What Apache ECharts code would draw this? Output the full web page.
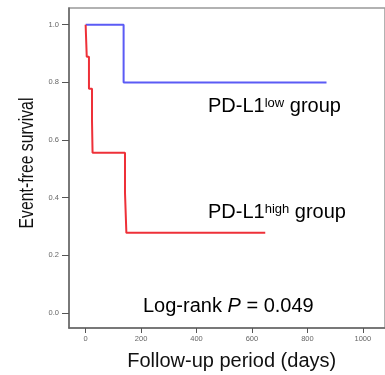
<!DOCTYPE html>
<html><head><meta charset="utf-8">
<script src="https://cdn.jsdelivr.net/npm/echarts@6/dist/echarts.min.js"></script>
<style>html,body{margin:0;padding:0;background:#fff}#c{width:385px;height:375px}</style>
</head><body><div id="c"></div>
<script>
// Kaplan-Meier step points: [days, survival]
const lowTimes = [0, 137, 869];
const lowSurv = [1.0, 0.8, 0.8];
const highTimes = [0, 4, 12, 23, 25, 142, 147, 648];
const highSurv = [1.0, 0.889, 0.778, 0.667, 0.556, 0.417, 0.278, 0.278];
const xTicks = [0, 200, 400, 600, 800, 1000];
const yTicks = [0.0, 0.2, 0.4, 0.6, 0.8, 1.0];

const FONT = 'Liberation Sans, Arial, sans-serif';
const chart = echarts.init(document.getElementById('c'));
const toPairs = (t, s) => t.map((v, i) => [v, s[i]]);
const supRich = {
  a: { fontSize: 20, lineHeight: 24, fontFamily: FONT, color: '#111' },
  s: { fontSize: 13, padding: [0, 0, 7, 0], fontFamily: FONT, color: '#111' }
};

chart.setOption({
  animation: false,
  backgroundColor: '#fff',
  grid: { left: 69, top: 8, width: 326.6, height: 320, show: true, borderColor: '#999', borderWidth: 1.5, containLabel: false },
  xAxis: {
    type: 'value', min: -60, max: 1080,
    axisLine: { show: true, onZero: false, lineStyle: { color: '#666', width: 1.5 } },
    axisTick: { show: true, inside: false, customValues: xTicks, length: 5, lineStyle: { color: '#555' } },
    axisLabel: { customValues: xTicks, fontSize: 7.5, color: '#666', margin: 7, fontFamily: FONT,
      formatter: v => String(v) },
    splitLine: { show: false }
  },
  yAxis: {
    type: 'value', min: -0.052, max: 1.058,
    axisLine: { show: true, onZero: false, lineStyle: { color: '#666', width: 1.5 } },
    axisTick: { show: true, inside: false, customValues: yTicks, length: 7, lineStyle: { color: '#555' } },
    axisLabel: { customValues: yTicks, fontSize: 7.5, color: '#666', margin: 10, fontFamily: FONT,
      formatter: v => v.toFixed(1) },
    splitLine: { show: false }
  },
  series: [
    { type: 'line', step: 'end', symbol: 'none', data: toPairs(lowTimes, lowSurv),
      lineStyle: { color: '#5b5bf5', width: 2 } },
    { type: 'line', step: 'end', symbol: 'none', data: toPairs(highTimes, highSurv),
      lineStyle: { color: '#ee3038', width: 2 } }
  ],
  graphic: [
    { type: 'text', x: 208, y: 106.8, style: {
      text: '{a|PD-L1}{s|low}{a| group}', verticalAlign: 'middle', align: 'left', rich: supRich } },
    { type: 'text', x: 208, y: 212.8, style: {
      text: '{a|PD-L1}{s|high}{a| group}', verticalAlign: 'middle', align: 'left', rich: supRich } },
    { type: 'text', x: 143, y: 306.8, style: {
      text: '{a|Log-rank }{i|P}{a| = 0.049}', verticalAlign: 'middle', align: 'left',
      rich: { a: { fontSize: 20, lineHeight: 20, fontFamily: FONT, color: '#111' },
              i: { fontSize: 20, lineHeight: 20, fontStyle: 'italic', fontFamily: FONT, color: '#111' } } } },
    { type: 'text', x: 231.7, y: 361.8, style: {
      text: 'Follow-up period (days)', fontSize: 20, lineHeight: 20, fontFamily: FONT, fill: '#111',
      align: 'center', verticalAlign: 'middle' } },
    { type: 'text', x: 27.3, y: 163, rotation: Math.PI / 2, scaleX: 0.79, style: {
      text: 'Event-free survival', fontSize: 20, lineHeight: 20, fontFamily: FONT, fill: '#111',
      align: 'center', verticalAlign: 'middle' } }
  ]
});
</script></body></html>
